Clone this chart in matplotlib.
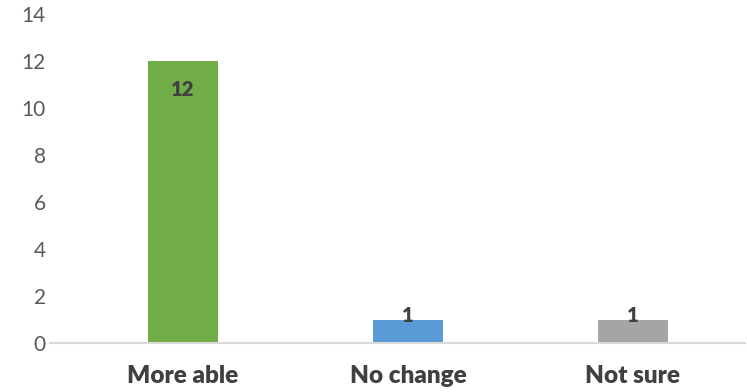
import matplotlib
matplotlib.use('Agg')
import matplotlib.pyplot as plt

categories = ['More able', 'No change', 'Not sure']
counts = [12, 1, 1]
colors = ['#70AD47', '#5B9BD5', '#A5A5A5']

plt.rcParams['font.family'] = ['Lato', 'DejaVu Sans']

fig = plt.figure(figsize=(7.47, 3.92), dpi=100)
ax = fig.add_axes([50/747, 1 - 343/392, 695/747, 329/392])

x = list(range(len(categories)))
bars = ax.bar(x, counts, width=0.315, color=colors, zorder=2)

ax.set_xlim(-0.591, 2.498)
ax.set_ylim(0, 14)
ax.set_yticks(range(0, 15, 2))
ax.set_xticks(x)
ax.set_xticklabels(categories, fontsize=17.5, fontweight='heavy', color='#404040')
ax.tick_params(axis='y', length=0, labelsize=15, labelcolor='#595959', pad=3)
ax.tick_params(axis='x', length=0, pad=16)

for s in ['top', 'right', 'left']:
    ax.spines[s].set_visible(False)
ax.spines['bottom'].set_color('#D9D9D9')
ax.spines['bottom'].set_linewidth(1.5)

for b, v in zip(bars, counts):
    if v > 2:
        ax.text(b.get_x() + b.get_width()/2, v - 1.23, str(v), ha='center', va='center',
                fontsize=14.5, fontweight='heavy', color='#404040')
    else:
        ax.text(b.get_x() + b.get_width()/2, v + 0.15, str(v), ha='center', va='center',
                fontsize=14.5, fontweight='heavy', color='#404040')

fig.savefig('out.png', dpi=100)
